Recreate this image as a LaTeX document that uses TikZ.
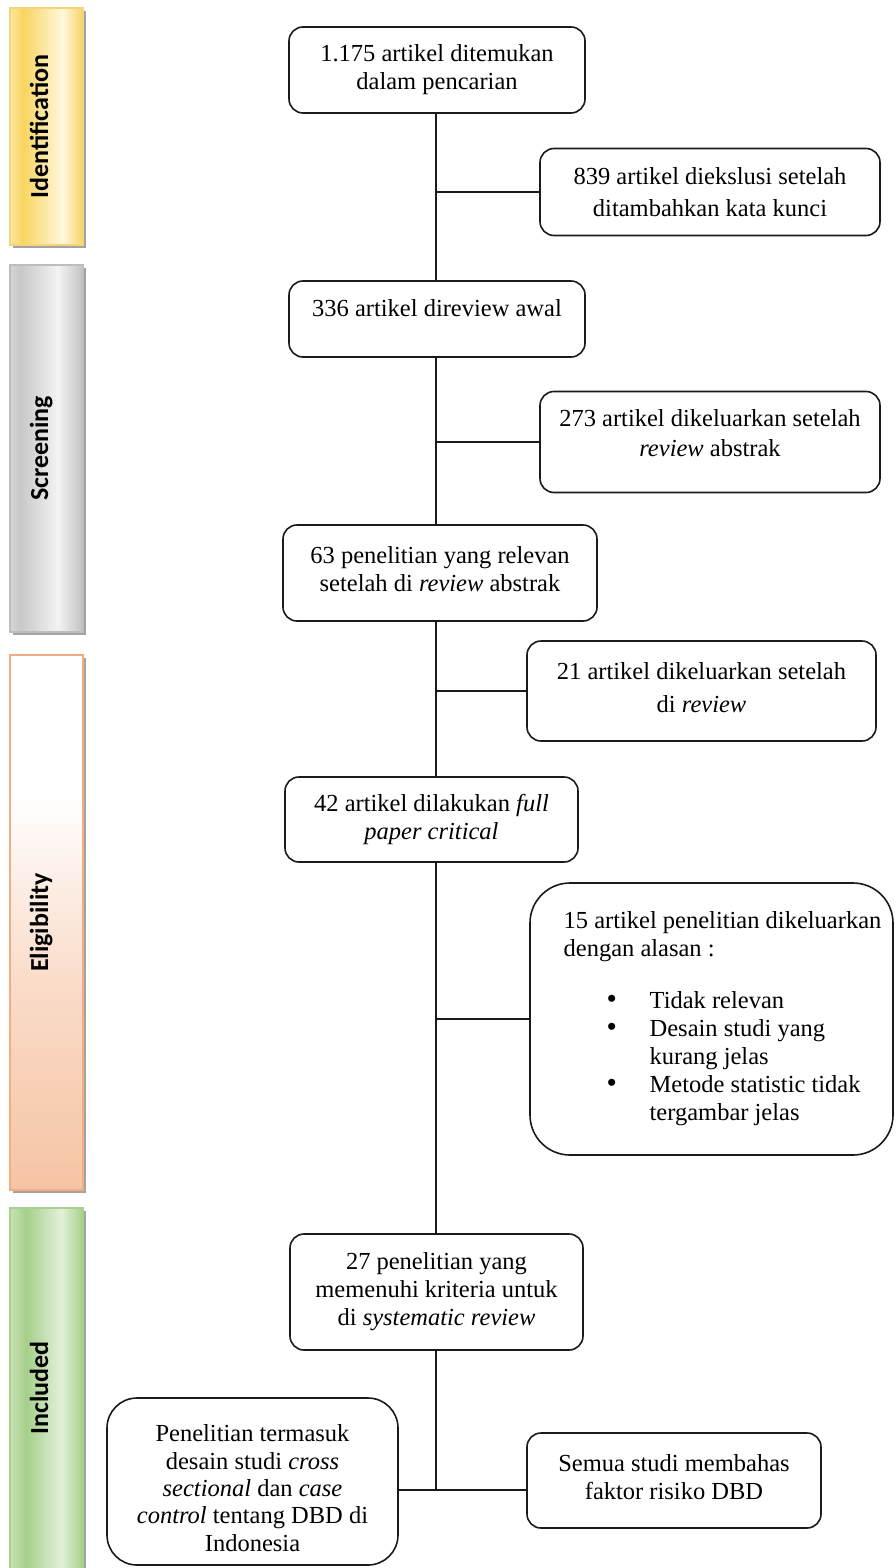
\documentclass[tikz,border=0pt]{standalone}
\usepackage{fontspec}
\setmainfont{Liberation Serif}
\newfontfamily\calibrifont{Carlito}
\usetikzlibrary{calc}
\definecolor{idA}{HTML}{FCE7A0}
\definecolor{idB}{HTML}{F8D560}
\definecolor{idC}{HTML}{FFF7DD}
\definecolor{idD}{HTML}{F9D462}
\definecolor{idBorder}{HTML}{F5D57A}
\definecolor{scA}{HTML}{D6D6D6}
\definecolor{scB}{HTML}{C8C8C8}
\definecolor{scC}{HTML}{F3F3F3}
\definecolor{scD}{HTML}{C2C2C2}
\definecolor{scBorder}{HTML}{BDBDBD}
\definecolor{elB}{HTML}{F6C4A3}
\definecolor{elM}{HTML}{FADDCB}
\definecolor{elBorder}{HTML}{F2AE80}
\definecolor{inA}{HTML}{C8E2B6}
\definecolor{inB}{HTML}{A6CF8A}
\definecolor{inC}{HTML}{E3F0DA}
\definecolor{inD}{HTML}{A8D08C}
\definecolor{inBorder}{HTML}{A9D18E}
\definecolor{shadowgray}{HTML}{A3A3A3}
\definecolor{ink}{HTML}{1A1A1A}
\pgfdeclarehorizontalshading{idshade}{100bp}{color(0bp)=(idA); color(25bp)=(idA); color(34bp)=(idB); color(61bp)=(idC); color(75bp)=(idD); color(100bp)=(idD)}
\pgfdeclarehorizontalshading{scshade}{100bp}{color(0bp)=(scA); color(25bp)=(scA); color(32bp)=(scB); color(58bp)=(scC); color(75bp)=(scD); color(100bp)=(scD)}
\pgfdeclareverticalshading{elshade}{100bp}{color(0bp)=(elB); color(25bp)=(elB); color(45bp)=(elM); color(62bp)=(white); color(100bp)=(white)}
\pgfdeclarehorizontalshading{inshade}{100bp}{color(0bp)=(inA); color(25bp)=(inA); color(36bp)=(inB); color(60bp)=(inC); color(75bp)=(inD); color(100bp)=(inD)}
\newcommand{\bigbul}{\raisebox{0pt}{\scalebox{1.2}{\textbullet}}}
\begin{document}
\begin{tikzpicture}[x=1pt,y=-1pt,
  box/.style={draw=ink, line width=1.6pt, rounded corners=14pt, align=center,
    inner sep=0pt, text=black, font=\fontsize{24.5}{28}\selectfont},
  bar/.style={line width=1.2pt, minimum width=73pt, inner sep=0pt},
  barlabel/.style={rotate=90, anchor=base, font=\calibrifont\bfseries\fontsize{26}{30}\selectfont, text=black, inner sep=0pt},
  conn/.style={draw=ink, line width=1.6pt}]
\useasboundingbox (0,0) rectangle (895,1568);
% side bars
\fill[shadowgray] (13,11) rectangle (86,248);
\node[bar, draw=idBorder, shading=idshade, minimum height=237pt] (idbar) at (46.5,126.5) {};
\node[barlabel] (idlab) at (48,126.5) {Identification};
\fill[shadowgray] (13,268) rectangle (86,635);
\node[bar, draw=scBorder, shading=scshade, minimum height=367pt] (scbar) at (46.5,448.5) {};
\node[barlabel] (sclab) at (48,448.5) {Screening};
\fill[shadowgray] (13,658) rectangle (86,1193);
\node[bar, draw=elBorder, shading=elshade, minimum height=535pt] (elbar) at (46.5,922.5) {};
\node[barlabel] (ellab) at (48,922.5) {Eligibility};
\fill[shadowgray] (13,1211) rectangle (86,1572);
\node[bar, draw=inBorder, shading=inshade, minimum height=362pt] (inbar) at (46.5,1389) {};
\node[barlabel] (inlab) at (48,1388) {Included};
% boxes
\node[box, minimum width=296pt, minimum height=86pt] (b1) at (437,70) {1.175 artikel ditemukan\\dalam pencarian};
\node[box, minimum width=340pt, minimum height=87pt] (b2) at (710,192) {839 artikel diekslusi setelah\\[4pt]ditambahkan kata kunci};
\node[box, minimum width=296pt, minimum height=76pt] (b3) at (437,319) {336 artikel direview awal\\[-5pt]\mbox{}};
\node[box, minimum width=340pt, minimum height=101pt] (b4) at (710,442) {273 artikel dikeluarkan setelah\\[2pt]\textit{review} abstrak\\[-10pt]\mbox{}};
\node[box, minimum width=314pt, minimum height=96pt] (b5) at (440,573) {63 penelitian yang relevan\\setelah di \textit{review} abstrak\\[-20pt]\mbox{}};
\node[box, minimum width=349pt, minimum height=100pt] (b6) at (701.5,691) {21 artikel dikeluarkan setelah\\[5pt]di \textit{review}\\[-21pt]\mbox{}};
\node[box, minimum width=293pt, minimum height=85pt] (b7) at (431.5,819.5) {42 artikel dilakukan \textit{full}\\\textit{paper critical}};
\node[box, rounded corners=40pt, minimum width=363pt, minimum height=272pt] (b8) at (711.5,1019) {\begin{tabular}{@{\hspace{22pt}}l@{}}15 artikel penelitian dikeluarkan\\ dengan alasan :\\[24pt]
\hspace*{43pt}\makebox[43pt][l]{\bigbul}Tidak relevan\\
\hspace*{43pt}\makebox[43pt][l]{\bigbul}Desain studi yang\\
\hspace*{86pt}kurang jelas\\
\hspace*{43pt}\makebox[43pt][l]{\bigbul}Metode statistic tidak\\
\hspace*{86pt}tergambar jelas\end{tabular}};
\node[box, minimum width=293pt, minimum height=116pt] (b9) at (436.5,1292) {27 penelitian yang\\memenuhi kriteria untuk\\di \textit{systematic review}};
\node[box, rounded corners=30pt, minimum width=291pt, minimum height=167pt, font=\fontsize{24.5}{27.3}\selectfont] (b10) at (252.5,1481.5) {\rule{0pt}{30pt}Penelitian termasuk\\desain studi \textit{cross}\\\textit{sectional} dan \textit{case}\\\textit{control} tentang DBD di\\Indonesia};
\node[box, minimum width=294pt, minimum height=95pt] (b11) at (674,1480.5) {Semua studi membahas\\faktor risiko DBD\\[-20pt]\mbox{}};
% connectors
\coordinate (xline) at (436,0);
\coordinate (j) at (436,1490);
\draw[conn] (b1.south -| xline) -- (b3.north -| xline);
\draw[conn] (xline |- b2.west) -- (b2.west);
\draw[conn] (b3.south -| xline) -- (b5.north -| xline);
\draw[conn] (xline |- b4.west) -- (b4.west);
\draw[conn] (b5.south -| xline) -- (b7.north -| xline);
\draw[conn] (xline |- b6.west) -- (b6.west);
\draw[conn] (b7.south -| xline) -- (b9.north -| xline);
\draw[conn] (xline |- b8.west) -- (b8.west);
\draw[conn] (b9.south -| xline) -- (j);
\draw[conn] (b10.east |- j) -- (b11.west |- j);
\end{tikzpicture}
\end{document}
